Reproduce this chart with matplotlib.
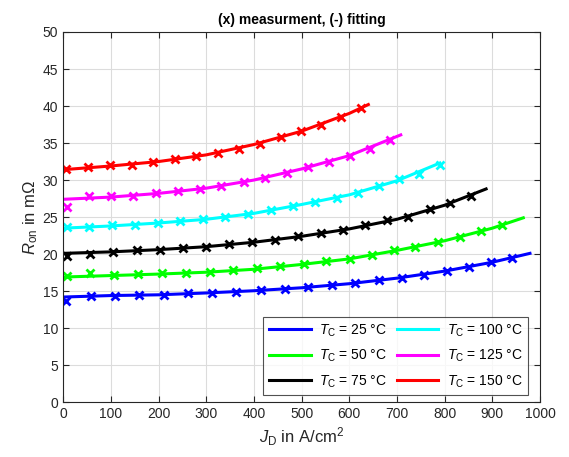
import matplotlib
matplotlib.use("Agg")
import matplotlib.pyplot as plt

plt.rcParams['font.family'] = ['Liberation Sans', 'DejaVu Sans']
plt.rcParams['mathtext.fontset'] = 'custom'
plt.rcParams['mathtext.rm'] = 'Liberation Sans'
plt.rcParams['mathtext.it'] = 'Liberation Sans:italic'

temps = [25, 50, 75, 100, 125, 150]
colors = ['#0000ff', '#00ff00', '#000000', '#00ffff', '#ff00ff', '#ff0000']

# measured points (J in A/cm^2, R in mOhm)
j_25 = [6, 59, 109, 160, 211, 262, 312, 363, 414, 465, 513, 563, 613, 662, 710, 756, 806, 851, 898, 942]
r_25 = [13.7, 14.4, 14.4, 14.5, 14.5, 14.7, 14.8, 14.9, 15.1, 15.3, 15.5, 15.8, 16.1, 16.5, 16.8, 17.2, 17.7, 18.3, 18.9, 19.5]
j_50 = [8, 57, 107, 158, 208, 258, 307, 357, 406, 455, 505, 552, 601, 647, 693, 738, 787, 832, 877, 920]
r_50 = [17.1, 17.4, 17.2, 17.3, 17.4, 17.5, 17.6, 17.9, 18.1, 18.4, 18.7, 19.1, 19.4, 19.9, 20.5, 21.0, 21.7, 22.3, 23.1, 23.9]
j_75 = [8, 57, 105, 155, 203, 252, 300, 348, 397, 445, 493, 541, 586, 634, 680, 723, 769, 812, 855]
r_75 = [19.7, 20.0, 20.3, 20.5, 20.6, 20.8, 21.0, 21.3, 21.6, 21.9, 22.4, 22.8, 23.3, 23.9, 24.6, 25.0, 26.1, 26.9, 27.9]
j_100 = [8, 55, 103, 151, 199, 246, 294, 340, 388, 435, 481, 528, 574, 618, 662, 705, 747, 791]
r_100 = [23.6, 23.7, 23.9, 23.9, 24.2, 24.5, 24.7, 25.0, 25.4, 25.9, 26.5, 27.0, 27.6, 28.3, 29.2, 30.1, 30.8, 32.1]
j_125 = [8, 55, 101, 147, 194, 241, 286, 332, 379, 423, 469, 513, 558, 602, 644, 686]
r_125 = [26.4, 27.8, 27.9, 27.9, 28.2, 28.5, 28.8, 29.2, 29.7, 30.3, 30.9, 31.8, 32.4, 33.3, 34.2, 35.4]
j_150 = [6, 52, 98, 144, 189, 234, 279, 324, 369, 412, 456, 499, 541, 583, 624]
r_150 = [31.5, 31.7, 32.0, 32.1, 32.4, 32.8, 33.2, 33.6, 34.2, 34.9, 35.8, 36.6, 37.5, 38.5, 39.7]

# fitted curves
fj_25 = [0, 100, 200, 300, 400, 500, 600, 700, 800, 900, 979]
fr_25 = [14.2, 14.4, 14.5, 14.75, 15.05, 15.45, 16.0, 16.75, 17.7, 18.9, 20.1]
fj_50 = [0, 100, 200, 300, 400, 500, 600, 700, 800, 900, 965]
fr_50 = [16.9, 17.1, 17.3, 17.55, 17.95, 18.6, 19.35, 20.5, 21.8, 23.5, 24.9]
fj_75 = [0, 100, 200, 300, 400, 500, 600, 700, 800, 887]
fr_75 = [20.1, 20.3, 20.6, 21.0, 21.6, 22.4, 23.4, 24.7, 26.6, 28.8]
fj_100 = [0, 100, 200, 300, 400, 500, 600, 700, 790]
fr_100 = [23.5, 23.8, 24.2, 24.7, 25.5, 26.7, 28.0, 29.9, 32.3]
fj_125 = [0, 100, 200, 300, 400, 500, 600, 708]
fr_125 = [27.4, 27.7, 28.2, 28.9, 30.0, 31.5, 33.3, 36.1]
fj_150 = [0, 100, 200, 300, 400, 500, 600, 640]
fr_150 = [31.4, 31.9, 32.5, 33.4, 34.8, 36.6, 39.0, 40.2]

meas = [(j_25, r_25), (j_50, r_50), (j_75, r_75), (j_100, r_100), (j_125, r_125), (j_150, r_150)]
fits = [(fj_25, fr_25), (fj_50, fr_50), (fj_75, fr_75), (fj_100, fr_100), (fj_125, fr_125), (fj_150, fr_150)]

fig = plt.figure(figsize=(5.69, 4.57), dpi=100)
ax = fig.add_axes([0.111, 0.12, 0.838, 0.81])

for t, c, (mj, mr), (fj, fr) in zip(temps, colors, meas, fits):
    ax.plot(mj, mr, 'x', color=c, markersize=5.5, markeredgewidth=2.0)
    ax.plot(fj, fr, '-', color=c, linewidth=2.2, label=r'$T_\mathrm{C}$ = %d °C' % t)

ax.set_xlim(0, 1000)
ax.set_ylim(0, 50)
ax.set_xticks(range(0, 1001, 100))
ax.set_yticks(range(0, 51, 5))
ax.grid(True, color='#dcdcdc', linewidth=0.8)
ax.set_axisbelow(True)
ax.tick_params(direction='in', top=True, right=True, labelsize=10, colors='#262626', length=4)
for s in ax.spines.values():
    s.set_color('#262626')
    s.set_linewidth(0.8)

ax.set_title('(x) measurment, (-) fitting', fontsize=10, fontweight='bold', pad=6)
ax.set_xlabel(r'$J_\mathrm{D}$ in A/cm$^2$', fontsize=12, color='#262626', labelpad=3)
ax.set_ylabel(r'$R_\mathrm{on}$ in m$\Omega$', fontsize=12, color='#262626', labelpad=2)

leg = ax.legend(loc='lower right', bbox_to_anchor=(0.975, 0.019), borderaxespad=0,
                ncol=2, fontsize=10, frameon=True, fancybox=False,
                edgecolor='#262626', handlelength=3.0, handletextpad=0.6,
                columnspacing=0.7, borderpad=0.4, labelspacing=0.65)
leg.get_frame().set_linewidth(0.8)

fig.savefig('out.png', dpi=100)
